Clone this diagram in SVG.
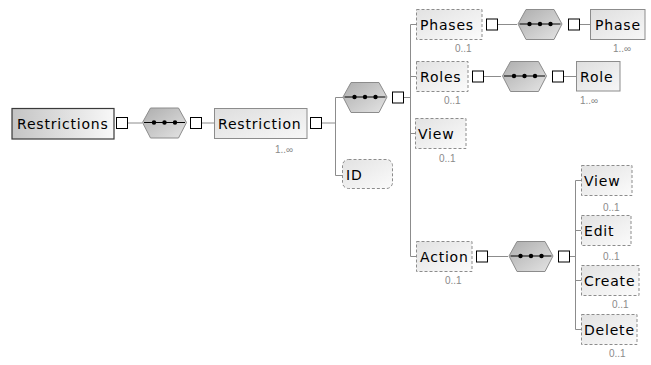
<svg xmlns="http://www.w3.org/2000/svg" xmlns:xlink="http://www.w3.org/1999/xlink" width="651" height="365" viewBox="0 0 651 365">
<style>
.t{font-family:"DejaVu Sans","Liberation Sans",sans-serif;font-size:14px;letter-spacing:0.8px;fill:#000}
.c{font-family:"Liberation Sans","DejaVu Sans",sans-serif;font-size:10px;fill:#8a8a8a}
.box{fill:url(#gBox);stroke:#8c8c8c;stroke-width:1}
.opt{fill:url(#gOpt);stroke:#8c8c8c;stroke-width:1;stroke-dasharray:3,2}
.root{fill:url(#gRoot);stroke:#3a3a3a;stroke-width:1.2}
.sq{fill:#fff;stroke:#000;stroke-width:1}
.ln{stroke:#8c8c8c;stroke-width:1;fill:none}
</style>
<defs>
<linearGradient id="gBox" x1="0" y1="0" x2="1" y2="1"><stop offset="0" stop-color="#dedede"/><stop offset="1" stop-color="#f7f7f7"/></linearGradient>
<linearGradient id="gOpt" x1="0" y1="0" x2="1" y2="1"><stop offset="0" stop-color="#e2e2e2"/><stop offset="1" stop-color="#fbfbfb"/></linearGradient>
<linearGradient id="gRoot" x1="0" y1="0" x2="1" y2="0"><stop offset="0" stop-color="#c4c4c4"/><stop offset="1" stop-color="#f8f8f8"/></linearGradient>
<linearGradient id="gHex" x1="0" y1="0" x2="1" y2="1"><stop offset="0" stop-color="#adadad"/><stop offset="1" stop-color="#e4e4e4"/></linearGradient>
<g id="seq">
<path d="M0.5,15 L8.5,0.5 L36.5,0.5 L44.5,15 L36.5,30.5 L8.5,30.5 Z" fill="url(#gHex)" stroke="#8c8c8c"/>
<line x1="2" y1="15" x2="43" y2="15" stroke="#000" stroke-width="1.2"/>
<circle cx="12" cy="15" r="2.2" fill="#000"/>
<circle cx="22.5" cy="15" r="2.2" fill="#000"/>
<circle cx="33" cy="15" r="2.2" fill="#000"/>
</g>
<rect id="sqr" x="0.5" y="0.5" width="11" height="11" class="sq"/>
</defs>

<g id="connectors">
<line class="ln" x1="128" y1="123" x2="142" y2="123"/>
<line class="ln" x1="202" y1="123" x2="214" y2="123"/>
<line class="ln" x1="322" y1="123" x2="335.5" y2="123"/>
<path class="ln" d="M343,97.5 H335.5 V175.5 H342"/>
<line class="ln" x1="404" y1="97.5" x2="410.5" y2="97.5"/>
<path class="ln" d="M416,24.5 H410.5 V256.5 H416 M410.5,76.5 H416 M410.5,133.5 H415"/>
<line class="ln" x1="498" y1="24.5" x2="517" y2="24.5"/>
<line class="ln" x1="580" y1="24.5" x2="590" y2="24.5"/>
<line class="ln" x1="484" y1="76.5" x2="501" y2="76.5"/>
<line class="ln" x1="564" y1="76.5" x2="576" y2="76.5"/>
<line class="ln" x1="488" y1="256.5" x2="508" y2="256.5"/>
<line class="ln" x1="570" y1="256.5" x2="575.5" y2="256.5"/>
<path class="ln" d="M581,180.5 H575.5 V329.5 H581 M575.5,230.5 H581 M575.5,280.5 H581"/>
</g>

<g id="n-restrictions">
<rect class="root" x="12" y="108.5" width="102" height="30.5"/>
<text class="t" x="17" y="129">Restrictions</text>
<use xlink:href="#sqr" x="116" y="117"/>
</g>
<g id="n-seq1">
<use xlink:href="#seq" x="142" y="107.5"/>
<use xlink:href="#sqr" x="190" y="117"/>
</g>
<g id="n-restriction">
<rect class="box" x="214.5" y="108.5" width="92.5" height="30"/>
<text class="t" x="218" y="129">Restriction</text>
<use xlink:href="#sqr" x="310" y="117"/>
<text class="c" x="275" y="153">1..∞</text>
</g>
<g id="n-seq2">
<use xlink:href="#seq" x="342.5" y="82"/>
<use xlink:href="#sqr" x="392" y="91.5"/>
</g>
<g id="n-id">
<rect class="opt" x="342.5" y="159.5" width="50" height="29" rx="6"/>
<text class="t" x="346" y="180">ID</text>
</g>
<g id="n-phases">
<rect class="opt" x="416.5" y="9.5" width="65.5" height="30"/>
<text class="t" x="420" y="30">Phases</text>
<use xlink:href="#sqr" x="486" y="18.5"/>
<text class="c" x="455" y="52">0..1</text>
</g>
<g id="n-seq3">
<use xlink:href="#seq" x="517.5" y="9"/>
<use xlink:href="#sqr" x="568" y="18.5"/>
</g>
<g id="n-phase">
<rect class="box" x="590.5" y="9.5" width="54.5" height="30"/>
<text class="t" x="595" y="30">Phase</text>
<text class="c" x="613" y="52">1..∞</text>
</g>
<g id="n-roles">
<rect class="opt" x="416.5" y="61.5" width="51.5" height="30"/>
<text class="t" x="420" y="82">Roles</text>
<use xlink:href="#sqr" x="472" y="70.5"/>
<text class="c" x="444" y="104">0..1</text>
</g>
<g id="n-seq4">
<use xlink:href="#seq" x="502" y="61"/>
<use xlink:href="#sqr" x="552" y="70.5"/>
</g>
<g id="n-role">
<rect class="box" x="576.5" y="61.5" width="43.5" height="29.5"/>
<text class="t" x="580" y="82">Role</text>
<text class="c" x="580" y="104">1..∞</text>
</g>
<g id="n-view">
<rect class="opt" x="415.5" y="118.5" width="50.5" height="30"/>
<text class="t" x="418" y="139">View</text>
<text class="c" x="439" y="162">0..1</text>
</g>
<g id="n-action">
<rect class="opt" x="416.5" y="241.5" width="55.5" height="30"/>
<text class="t" x="420" y="262">Action</text>
<use xlink:href="#sqr" x="476" y="250.5"/>
<text class="c" x="445" y="284">0..1</text>
</g>
<g id="n-seq5">
<use xlink:href="#seq" x="508.5" y="241"/>
<use xlink:href="#sqr" x="558" y="250.5"/>
</g>
<g id="n-view2">
<rect class="opt" x="581.5" y="165.5" width="50.5" height="30"/>
<text class="t" x="584" y="186">View</text>
<text class="c" x="603" y="211">0..1</text>
</g>
<g id="n-edit">
<rect class="opt" x="581.5" y="215.5" width="49.5" height="30"/>
<text class="t" x="584" y="236">Edit</text>
<text class="c" x="603" y="260">0..1</text>
</g>
<g id="n-create">
<rect class="opt" x="581.5" y="265.5" width="57.5" height="30"/>
<text class="t" x="584" y="286">Create</text>
<text class="c" x="612" y="308">0..1</text>
</g>
<g id="n-delete">
<rect class="opt" x="581.5" y="314.5" width="55.5" height="30"/>
<text class="t" x="584" y="335">Delete</text>
<text class="c" x="609" y="357">0..1</text>
</g>
</svg>
